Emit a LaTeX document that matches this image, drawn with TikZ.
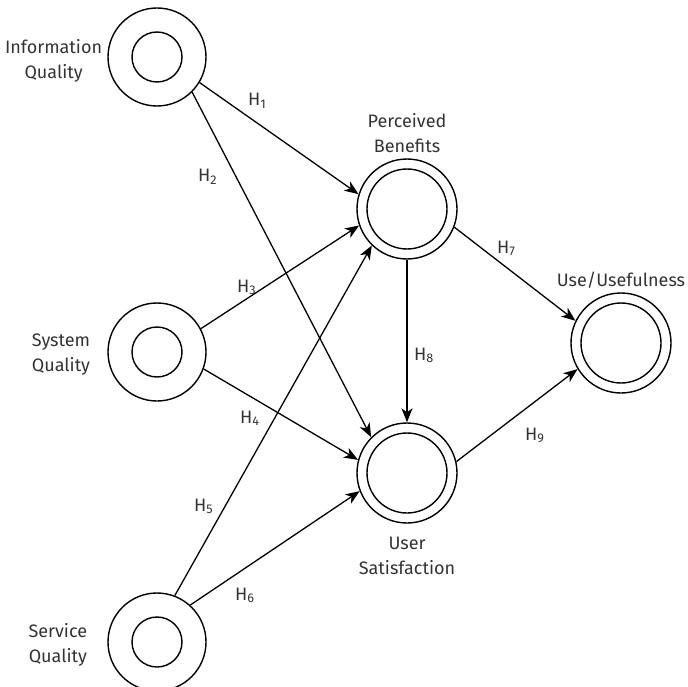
\documentclass[tikz,border=0pt]{standalone}
\usepackage{fontspec}
\setmainfont{Fira Sans}
\usepackage{tikz}
\usetikzlibrary{arrows.meta, positioning}

\begin{document}
\begin{tikzpicture}[
    x=1pt, y=-1pt,
    node distance=5pt,
    every node/.style={font=\fontsize{18}{25}\selectfont, align=center, text=black!80, inner sep=0pt},
    qual/.style={draw=black, circle, line width=1.4pt, minimum size=98pt},
    qualcore/.style={draw=black, circle, line width=1.4pt, minimum size=50pt},
    outcome/.style={draw=black, circle, line width=1.4pt, minimum size=100pt},
    outcore/.style={draw=black, circle, line width=1.4pt, minimum size=80pt},
    hyp/.style={anchor=base west},
    arr/.style={-{Stealth[length=14pt, width=11pt, inset=4pt]}, line width=1.3pt}
  ]
  \useasboundingbox (0,0) rectangle (688,687);

  % quality constructs
  \node[qual] (iq)  at (157,57)  {};
  \node[qual] (sq)  at (157,352) {};
  \node[qual] (svq) at (157,642) {};
  \node[qualcore] (iqc)  at (iq)  {};
  \node[qualcore] (sqc)  at (sq)  {};
  \node[qualcore] (svqc) at (svq) {};

  \node[left=5pt of iq, yshift=-4pt]   (iqlab)  {Information\\Quality};
  \node[left=17pt of sq, yshift=-3pt]  (sqlab)  {System\\Quality};
  \node[left=20pt of svq, yshift=-3pt] (svqlab) {Service\\Quality};

  % outcome constructs
  \node[outcome] (pb) at (407,209) {};
  \node[outcome] (us) at (407,473) {};
  \node[outcome] (uu) at (621,343) {};
  \node[outcore] (pbc) at (pb) {};
  \node[outcore] (usc) at (us) {};
  \node[outcore] (uuc) at (uu) {};

  \node[above=5pt of pb]  (pblab) {Perceived\\Benefits};
  \node[below=13pt of us] (uslab) {User\\Satisfaction};
  \node[above=4pt of uu]  (uulab) {Use/Usefulness};

  % paths
  \draw[arr] (iq.-31)  -- (pb.163);
  \draw[arr] (iq.-45)  -- (us.135);
  \draw[arr] (sq.28)   -- (pb.199);
  \draw[arr] (sq.-20)  -- (us.165);
  \draw[arr] (svq.69)  -- (pb.226);
  \draw[arr] (svq.48)  -- (us.201);
  \draw[arr] (pb.-21)  -- (uu.154);
  \draw[arr] (pb.south) -- (us.north);
  \draw[arr] (us.13)   -- (uu.211);

  % hypothesis labels
  \node[hyp] (h1) at (248,106) {H\textsubscript{1}};
  \node[hyp] (h2) at (198,182) {H\textsubscript{2}};
  \node[hyp] (h3) at (237,292) {H\textsubscript{3}};
  \node[hyp] (h4) at (240,423) {H\textsubscript{4}};
  \node[hyp] (h5) at (194,511) {H\textsubscript{5}};
  \node[hyp] (h6) at (235,600) {H\textsubscript{6}};
  \node[hyp] (h7) at (497,253) {H\textsubscript{7}};
  \node[hyp] (h8) at (414,360) {H\textsubscript{8}};
  \node[hyp] (h9) at (525,440) {H\textsubscript{9}};
\end{tikzpicture}
\end{document}
